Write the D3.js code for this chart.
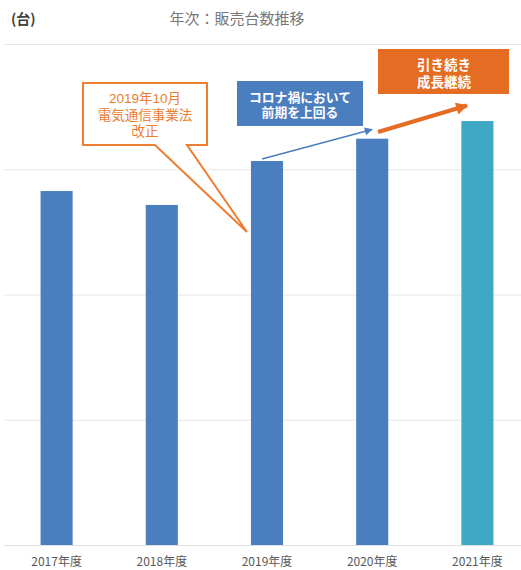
<!DOCTYPE html>
<html><head><meta charset="utf-8">
<script src="https://cdn.jsdelivr.net/npm/d3@7"></script>
<style>body{margin:0;background:#fff}svg{display:block}text{font-family:"Noto Sans CJK JP","Noto Sans",sans-serif}
text.note{font-family:"Liberation Sans","Noto Sans CJK JP",sans-serif}</style>
</head><body><svg id="c" width="521" height="570"></svg>
<script>
const categories = ["2017年度","2018年度","2019年度","2020年度","2021年度"];
const sales = [2826, 2715, 3066, 3244, 3385];
const yTicks = [0, 1000, 2000, 3000, 4000];
const barColors = ["#4A7EBF","#4A7EBF","#4A7EBF","#4A7EBF","#3FA8C5"];
const titleText = "年次：販売台数推移";
const unitText = "(台)";
const calloutLines = ["2019年10月","電気通信事業法","改正"];
const blueNoteLines = ["コロナ禍において","前期を上回る"];
const orangeNoteLines = ["引き続き","成長継続"];

const svg = d3.select("#c");
const x = d3.scaleBand().domain(categories).range([4, 530]).paddingInner(0.695).paddingOuter(0.3475);
const y = d3.scaleLinear().domain([0, 4000]).range([545, 44]);

svg.append("text").attr("x",237).attr("y",23.5).attr("text-anchor","middle").attr("font-size",15).attr("fill","#777").text(titleText);
svg.append("text").attr("x",11).attr("y",23.5).attr("font-size",14).attr("font-weight","bold").attr("fill","#404040").text(unitText);

svg.append("g").selectAll("line").data(yTicks).join("line")
  .attr("x1",4).attr("x2",521).attr("y1",d=>y(d)+0.5).attr("y2",d=>y(d)+0.5)
  .attr("stroke",d=>d===0?"#e0e0e0":"#e6e6e6").attr("stroke-width",1);

svg.append("g").selectAll("rect").data(sales).join("rect")
  .attr("x",(d,i)=>x(categories[i])).attr("width",x.bandwidth())
  .attr("y",d=>y(d)).attr("height",d=>y(0)-y(d))
  .attr("fill",(d,i)=>barColors[i]);

const xa = svg.append("g").attr("transform","translate(0,545)").call(d3.axisBottom(x).tickSize(0).tickPadding(12));
xa.select(".domain").remove();
xa.selectAll("text").attr("font-size",12).attr("fill","#595959").style("font-family",'"Noto Sans CJK JP",sans-serif');

function multiline(lines, cxp, y0, dy, size, weight, color){
  svg.append("g").selectAll("text").data(lines).join("text").attr("class","note")
    .attr("text-anchor","middle").attr("font-size",size)
    .attr("font-weight",weight).attr("fill",color)
    .attr("x",cxp).attr("y",(d,i)=>y0+i*dy).text(d=>d);
}

// callout with pointer
const cx = x(categories[2]);
const tip = [cx - 4, y(sales[2]) + 71];
const bx0=83, bx1=207, by0=83, by1=145;
svg.append("path")
  .attr("d",`M${bx0},${by0}H${bx1}V${by1}H187L${tip[0]},${tip[1]}L155,${by1}H${bx0}Z`)
  .attr("fill","#fff").attr("stroke","#ED7D31").attr("stroke-width",2).attr("stroke-linejoin","miter");
multiline(calloutLines,145,103,16.5,13.5,"normal","#ED7D31");

// blue note
svg.append("rect").attr("x",237).attr("y",81).attr("width",126).attr("height",45).attr("fill","#4A7EBF");
multiline(blueNoteLines,300,102,14.5,12.8,"bold","#fff");

// orange note
svg.append("rect").attr("x",378).attr("y",49).attr("width",131).attr("height",45).attr("fill","#E46C23");
multiline(orangeNoteLines,444,70,17,13.5,"bold","#fff");

// arrows
const defs = svg.append("defs");
function marker(id,color,w,h){
  defs.append("marker").attr("id",id).attr("viewBox","0 0 10 10").attr("refX",9).attr("refY",5)
    .attr("markerUnits","userSpaceOnUse").attr("markerWidth",w).attr("markerHeight",h).attr("orient","auto")
    .append("path").attr("d","M0,0L10,5L0,10Z").attr("fill",color);
}
marker("ab","#4A7EBF",10,8);
marker("ao","#E46C23",13,12);
svg.append("line").attr("x1",262).attr("y1",159).attr("x2",372).attr("y2",129.5)
  .attr("stroke","#4A7EBF").attr("stroke-width",1.5).attr("marker-end","url(#ab)");
svg.append("line").attr("x1",378).attr("y1",132).attr("x2",467).attr("y2",105.5)
  .attr("stroke","#E46C23").attr("stroke-width",4).attr("marker-end","url(#ao)");
</script></body></html>
